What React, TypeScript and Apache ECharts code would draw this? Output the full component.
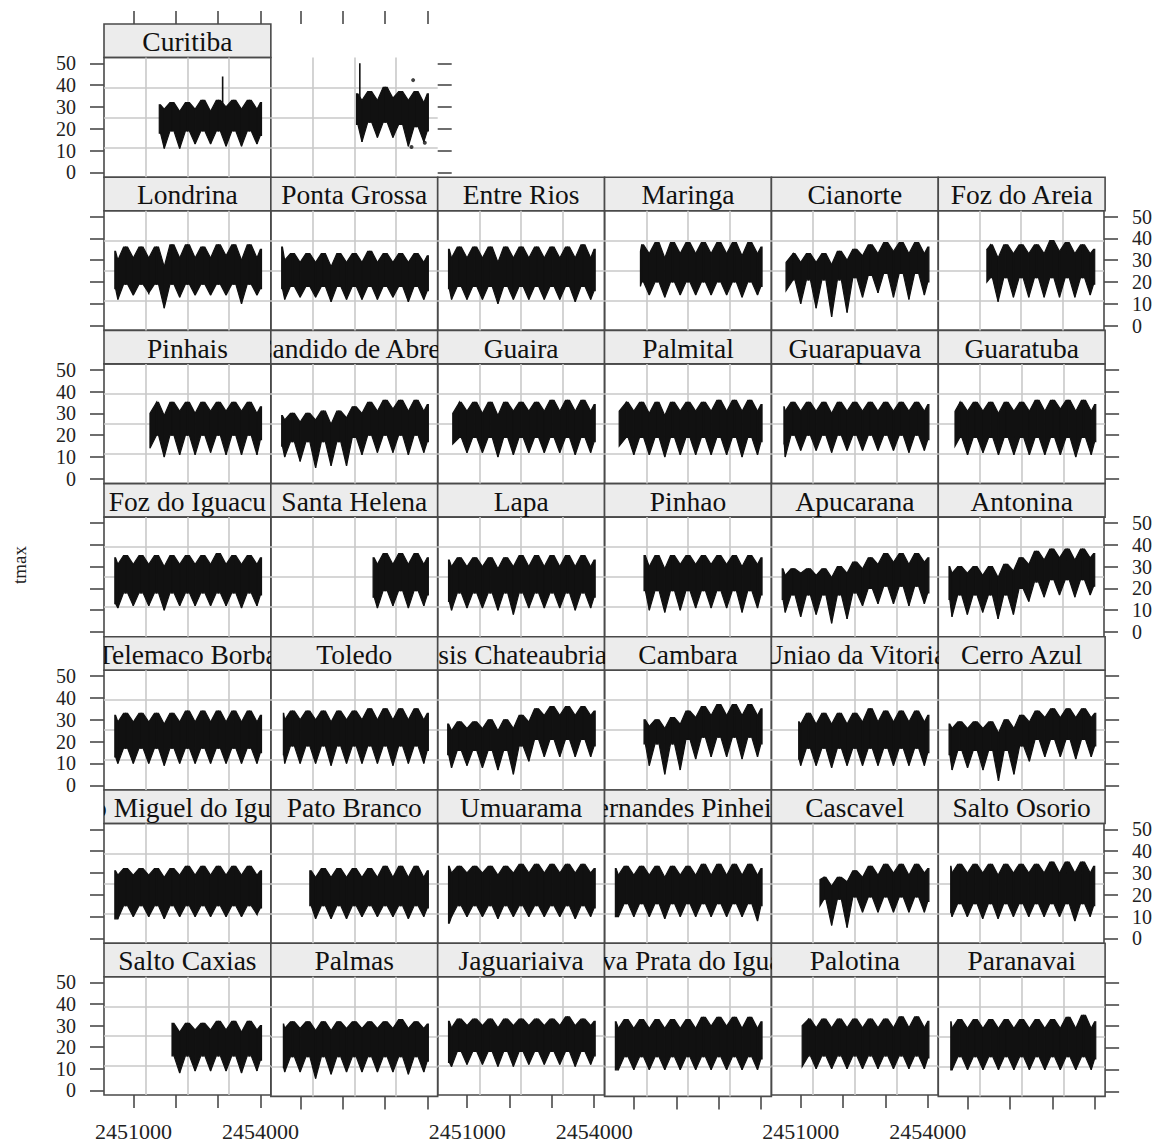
import React, { useEffect, useRef } from "react";
import * as echarts from "echarts";

// ---------- axes ----------
const X_MIN = 2450304;
const X_MAX = 2454246;
const Y_MIN = -2.16;
const Y_MAX = 52.66;
const X_TICKS = [2451000, 2452000, 2453000, 2454000];
const X_TICK_LABELS = [2451000, 2454000];
const Y_TICKS = [0, 10, 20, 30, 40, 50];

// half-year nodes (Julian day): Jul97, Jan98, ... Jul06, end of record
const NODE_DATES = [
  2450631, 2450815, 2450996, 2451180, 2451361, 2451545, 2451727, 2451911, 2452092, 2452276,
  2452457, 2452641, 2452822, 2453006, 2453188, 2453372, 2453553, 2453737, 2453918, 2454025,
];
// the July (winter) nodes among them
const WINTER_DATES = [
  2450631, 2450996, 2451361, 2451727, 2452092, 2452457, 2452822, 2453188, 2453553, 2453918,
];

// ---------- panel layout (top row first) ----------
const LAYOUT: string[][] = [
  ["Curitiba", "panel2"],
  ["Londrina", "Ponta Grossa", "Entre Rios", "Maringa", "Cianorte", "Foz do Areia"],
  ["Pinhais", "Candido de Abreu", "Guaira", "Palmital", "Guarapuava", "Guaratuba"],
  ["Foz do Iguacu", "Santa Helena", "Lapa", "Pinhao", "Apucarana", "Antonina"],
  ["Telemaco Borba", "Toledo", "Assis Chateaubriand", "Cambara", "Uniao da Vitoria", "Cerro Azul"],
  ["Sao Miguel do Iguacu", "Pato Branco", "Umuarama", "Fernandes Pinheiro", "Cascavel", "Salto Osorio"],
  ["Salto Caxias", "Palmas", "Jaguariaiva", "Nova Prata do Iguacu", "Palotina", "Paranavai"],
];

// ---------- tmax envelopes: [start, then each NODE_DATE after start] ----------
const curitibaHi = [31, 29, 32, 28, 32, 29, 33, 28, 33, 30, 33, 29, 33, 29, 32];
const curitibaLo = [18, 11, 19, 11, 19, 13, 19, 13, 19, 12, 19, 12, 19, 13, 17];
const panel2Hi = [36, 33, 37, 33, 39, 34, 37, 33, 37, 32, 36];
const panel2Lo = [22, 14, 23, 16, 23, 16, 22, 12, 21, 14, 19];

const londrinaHi = [34, 30, 36, 31, 36, 31, 36, 27, 37, 31, 37, 31, 36, 31, 37, 32, 37, 30, 37, 31, 35];
const londrinaLo = [17, 12, 19, 14, 19, 15, 19, 8, 19, 13, 19, 14, 19, 14, 19, 14, 19, 10, 19, 14, 17];
const pontaGrossaHi = [36, 30, 33, 29, 33, 29, 33, 27, 33, 29, 33, 29, 34, 29, 33, 29, 33, 29, 33, 29, 32];
const pontaGrossaLo = [17, 12, 18, 13, 18, 13, 18, 11, 18, 12, 18, 12, 18, 12, 18, 13, 18, 11, 18, 12, 16];
const entreRiosHi = [35, 31, 36, 31, 36, 31, 36, 29, 36, 31, 36, 31, 36, 31, 36, 31, 36, 31, 37, 31, 35];
const entreRiosLo = [17, 12, 18, 12, 18, 12, 18, 10, 18, 12, 18, 12, 18, 12, 18, 12, 18, 11, 18, 12, 16];
const maringaHi = [34, 37, 33, 38, 31, 38, 33, 38, 33, 38, 33, 38, 33, 38, 32, 38, 33, 36];
const maringaLo = [18, 20, 14, 20, 13, 20, 14, 20, 14, 20, 14, 20, 14, 20, 13, 20, 14, 18];
const cianorteHi = [29, 33, 29, 33, 29, 33, 28, 34, 30, 35, 32, 37, 33, 38, 34, 38, 33, 38, 33, 36];
const cianorteLo = [16, 21, 10, 21, 8, 21, 4, 21, 6, 22, 13, 23, 15, 24, 13, 24, 12, 24, 14, 20];
const fozAreiaHi = [35, 37, 31, 37, 33, 37, 33, 37, 33, 39, 34, 38, 33, 37, 33, 35];
const fozAreiaLo = [20, 22, 11, 22, 13, 22, 13, 22, 13, 22, 13, 22, 13, 22, 14, 19];

const pinhaisHi = [30, 35, 29, 35, 31, 35, 30, 35, 31, 35, 31, 35, 31, 35, 30, 33];
const pinhaisLo = [14, 20, 10, 20, 11, 20, 11, 20, 12, 20, 11, 20, 11, 20, 11, 18];
const candidoHi = [29, 27, 30, 26, 30, 27, 31, 25, 31, 28, 33, 30, 35, 31, 36, 32, 36, 31, 36, 31, 34];
const candidoLo = [15, 10, 17, 8, 17, 5, 17, 6, 17, 6, 19, 11, 20, 12, 20, 12, 20, 11, 20, 12, 17];
const guairaHi = [30, 35, 31, 35, 30, 35, 29, 35, 31, 35, 31, 35, 31, 36, 31, 36, 31, 36, 31, 34];
const guairaLo = [16, 19, 12, 19, 12, 19, 10, 19, 11, 19, 12, 19, 12, 19, 12, 19, 11, 19, 12, 17];
const palmitalHi = [31, 35, 31, 35, 30, 35, 29, 35, 31, 35, 31, 35, 31, 36, 31, 36, 31, 36, 31, 34];
const palmitalLo = [15, 19, 11, 19, 11, 19, 10, 19, 11, 19, 11, 19, 11, 19, 11, 19, 10, 19, 11, 17];
const guarapuavaHi = [33, 31, 35, 31, 35, 31, 35, 30, 35, 31, 35, 31, 35, 31, 35, 31, 35, 31, 35, 31, 34];
const guarapuavaLo = [16, 10, 20, 13, 20, 13, 20, 12, 20, 13, 20, 13, 20, 13, 20, 13, 20, 12, 20, 13, 18];
const guaratubaHi = [31, 35, 31, 35, 31, 35, 30, 35, 31, 35, 31, 36, 31, 36, 32, 36, 31, 36, 31, 34];
const guaratubaLo = [15, 19, 11, 19, 12, 19, 11, 19, 11, 19, 11, 19, 11, 19, 11, 19, 10, 19, 11, 17];

const fozIguacuHi = [34, 31, 35, 31, 35, 31, 35, 30, 35, 31, 35, 31, 35, 31, 36, 31, 35, 31, 35, 31, 34];
const fozIguacuLo = [13, 11, 18, 12, 18, 12, 18, 10, 18, 12, 18, 12, 18, 12, 18, 12, 18, 11, 18, 12, 17];
const santaHelenaHi = [34, 31, 36, 31, 36, 31, 36, 31, 34];
const santaHelenaLo = [16, 11, 19, 12, 19, 11, 19, 12, 17];
const lapaHi = [33, 30, 34, 30, 34, 30, 34, 29, 34, 30, 35, 30, 35, 30, 35, 30, 35, 30, 35, 30, 33];
const lapaLo = [14, 10, 18, 11, 18, 11, 18, 10, 18, 8, 18, 11, 18, 11, 18, 11, 18, 10, 18, 11, 16];
const pinhaoHi = [35, 30, 35, 29, 35, 31, 35, 31, 35, 31, 35, 31, 35, 30, 35, 31, 34];
const pinhaoLo = [19, 10, 19, 9, 19, 10, 19, 11, 19, 11, 19, 11, 19, 9, 19, 11, 17];
const apucaranaHi = [29, 26, 29, 27, 29, 26, 29, 25, 30, 27, 32, 29, 34, 31, 36, 32, 36, 31, 36, 32, 34];
const apucaranaLo = [15, 9, 17, 7, 17, 8, 17, 4, 17, 6, 18, 12, 20, 13, 21, 13, 21, 12, 21, 13, 18];
const antoninaHi = [30, 27, 30, 27, 30, 26, 30, 25, 31, 28, 34, 31, 37, 33, 38, 34, 38, 33, 38, 34, 36];
const antoninaLo = [15, 7, 17, 8, 17, 9, 17, 6, 17, 8, 20, 14, 23, 16, 24, 17, 24, 16, 24, 17, 21];

const telemacoHi = [32, 29, 33, 29, 33, 29, 33, 28, 33, 29, 34, 29, 34, 29, 34, 29, 34, 29, 34, 29, 32];
const telemacoLo = [13, 10, 17, 10, 17, 10, 17, 9, 17, 10, 17, 10, 17, 10, 17, 10, 17, 10, 17, 10, 15];
const toledoHi = [33, 30, 34, 30, 34, 30, 34, 29, 34, 30, 34, 30, 35, 30, 35, 30, 35, 30, 35, 30, 33];
const toledoLo = [14, 10, 18, 10, 18, 10, 18, 9, 18, 10, 18, 10, 18, 10, 18, 9, 18, 10, 18, 10, 16];
const assisHi = [28, 25, 29, 26, 29, 26, 30, 25, 30, 26, 32, 29, 35, 32, 36, 32, 36, 32, 36, 32, 34];
const assisLo = [14, 8, 16, 9, 16, 8, 16, 7, 16, 5, 18, 11, 21, 13, 21, 13, 21, 13, 21, 13, 18];
const cambaraHi = [30, 27, 30, 26, 31, 28, 34, 31, 36, 32, 37, 32, 37, 32, 37, 32, 35];
const cambaraLo = [19, 9, 19, 5, 19, 7, 21, 12, 22, 13, 22, 13, 22, 12, 22, 13, 19];
const uniaoHi = [29, 28, 33, 28, 33, 28, 33, 28, 33, 29, 35, 29, 34, 29, 34, 29, 34, 29, 32];
const uniaoLo = [12, 9, 17, 9, 17, 8, 17, 9, 17, 9, 17, 9, 17, 9, 17, 9, 17, 9, 15];
const cerroAzulHi = [28, 26, 29, 26, 29, 26, 29, 24, 30, 26, 32, 29, 34, 31, 35, 31, 35, 31, 35, 31, 33];
const cerroAzulLo = [14, 7, 16, 8, 16, 7, 16, 2, 16, 5, 18, 11, 21, 13, 21, 13, 21, 12, 21, 13, 18];

const saoMiguelHi = [31, 29, 32, 29, 32, 29, 32, 28, 32, 29, 33, 29, 33, 29, 33, 29, 33, 29, 33, 29, 31];
const saoMiguelLo = [9, 9, 15, 10, 15, 10, 15, 9, 15, 10, 15, 10, 15, 10, 15, 10, 15, 10, 15, 11, 14];
const patoBrancoHi = [31, 28, 32, 28, 32, 28, 32, 28, 32, 28, 33, 28, 33, 28, 33, 28, 31];
const patoBrancoLo = [15, 9, 15, 9, 15, 9, 15, 10, 15, 10, 15, 10, 15, 9, 15, 10, 14];
const umuaramaHi = [33, 30, 33, 30, 33, 30, 33, 29, 33, 30, 34, 30, 34, 30, 34, 30, 34, 30, 34, 30, 32];
const umuaramaLo = [7, 10, 15, 10, 15, 10, 15, 9, 15, 10, 15, 10, 15, 10, 15, 10, 15, 9, 15, 10, 14];
const fernandesHi = [32, 29, 33, 29, 33, 29, 33, 28, 33, 29, 33, 29, 34, 29, 34, 29, 34, 29, 34, 29, 32];
const fernandesLo = [10, 10, 16, 10, 16, 10, 16, 9, 16, 10, 16, 10, 16, 10, 16, 10, 16, 10, 16, 8, 15];
const cascavelHi = [27, 28, 24, 28, 26, 31, 28, 33, 29, 34, 30, 34, 29, 34, 30, 32];
const cascavelLo = [15, 18, 6, 18, 5, 19, 12, 19, 12, 19, 12, 19, 12, 19, 12, 17];
const saltoOsorioHi = [33, 30, 34, 30, 34, 30, 34, 29, 34, 30, 34, 30, 34, 30, 35, 30, 35, 30, 35, 30, 33];
const saltoOsorioLo = [12, 10, 16, 10, 16, 9, 16, 9, 16, 10, 16, 10, 16, 10, 16, 10, 16, 8, 16, 10, 15];

const saltoCaxiasHi = [31, 27, 31, 28, 31, 28, 32, 28, 32, 27, 32, 28, 30];
const saltoCaxiasLo = [16, 8, 16, 9, 16, 9, 16, 9, 16, 8, 16, 9, 14];
const palmasHi = [31, 29, 32, 29, 32, 28, 32, 28, 32, 29, 32, 29, 32, 29, 32, 29, 33, 29, 32, 29, 31];
const palmasLo = [11, 9, 16, 9, 16, 6, 16, 8, 16, 9, 16, 9, 16, 9, 16, 9, 16, 8, 16, 9, 14];
const jaguariaivaHi = [32, 29, 33, 30, 33, 30, 33, 29, 33, 30, 33, 30, 33, 30, 33, 30, 34, 30, 33, 30, 32];
const jaguariaivaLo = [13, 11, 18, 12, 18, 12, 18, 11, 18, 11, 18, 12, 18, 12, 18, 12, 18, 11, 18, 12, 16];
const novaPrataHi = [32, 29, 33, 29, 33, 29, 33, 29, 33, 29, 33, 29, 34, 30, 34, 30, 34, 29, 34, 29, 32];
const novaPrataLo = [10, 10, 16, 10, 16, 10, 16, 10, 16, 10, 16, 10, 16, 10, 16, 10, 16, 10, 16, 10, 15];
const palotinaHi = [30, 33, 29, 33, 29, 33, 29, 33, 29, 33, 29, 33, 29, 34, 29, 34, 29, 32];
const palotinaLo = [11, 16, 10, 16, 10, 16, 10, 16, 10, 16, 10, 16, 10, 16, 10, 16, 10, 15];
const paranavaiHi = [32, 29, 33, 29, 33, 29, 33, 29, 33, 29, 33, 29, 33, 29, 33, 29, 34, 29, 35, 29, 32];
const paranavaiLo = [10, 10, 16, 10, 16, 10, 16, 10, 16, 10, 16, 10, 16, 10, 16, 10, 16, 10, 16, 10, 15];

// isolated extremes [day, from, to] and single points [day, value]
const curitibaSpike = [2453107, 30, 44];
const panel2Spike = [2452406, 34, 50];
const panel2Dots = [
  [2453665, 42.3],
  [2453941, 13.6],
  [2453627, 11.7],
];

type Station = { label: string | null; t0: number; hi: number[]; lo: number[]; spike?: number[]; dots?: number[][] };

const STATIONS: Record<string, Station> = {
  Curitiba: { label: "Curitiba", t0: 2451610, hi: curitibaHi, lo: curitibaLo, spike: curitibaSpike },
  panel2: { label: null, t0: 2452328, hi: panel2Hi, lo: panel2Lo, spike: panel2Spike, dots: panel2Dots },
  Londrina: { label: "Londrina", t0: 2450560, hi: londrinaHi, lo: londrinaLo },
  "Ponta Grossa": { label: "Ponta Grossa", t0: 2450560, hi: pontaGrossaHi, lo: pontaGrossaLo },
  "Entre Rios": { label: "Entre Rios", t0: 2450560, hi: entreRiosHi, lo: entreRiosLo },
  Maringa: { label: "Maringa", t0: 2451152, hi: maringaHi, lo: maringaLo },
  Cianorte: { label: "Cianorte", t0: 2450650, hi: cianorteHi, lo: cianorteLo },
  "Foz do Areia": { label: "Foz do Areia", t0: 2451461, hi: fozAreiaHi, lo: fozAreiaLo },
  Pinhais: { label: "Pinhais", t0: 2451390, hi: pinhaisHi, lo: pinhaisLo },
  "Candido de Abreu": { label: "Candido de Abreu", t0: 2450560, hi: candidoHi, lo: candidoLo },
  Guaira: { label: "Guaira", t0: 2450660, hi: guairaHi, lo: guairaLo },
  Palmital: { label: "Palmital", t0: 2450650, hi: palmitalHi, lo: palmitalLo },
  Guarapuava: { label: "Guarapuava", t0: 2450600, hi: guarapuavaHi, lo: guarapuavaLo },
  Guaratuba: { label: "Guaratuba", t0: 2450700, hi: guaratubaHi, lo: guaratubaLo },
  "Foz do Iguacu": { label: "Foz do Iguacu", t0: 2450560, hi: fozIguacuHi, lo: fozIguacuLo },
  "Santa Helena": { label: "Santa Helena", t0: 2452720, hi: santaHelenaHi, lo: santaHelenaLo },
  Lapa: { label: "Lapa", t0: 2450560, hi: lapaHi, lo: lapaLo },
  Pinhao: { label: "Pinhao", t0: 2451237, hi: pinhaoHi, lo: pinhaoLo },
  Apucarana: { label: "Apucarana", t0: 2450560, hi: apucaranaHi, lo: apucaranaLo },
  Antonina: { label: "Antonina", t0: 2450560, hi: antoninaHi, lo: antoninaLo },
  "Telemaco Borba": { label: "Telemaco Borba", t0: 2450560, hi: telemacoHi, lo: telemacoLo },
  Toledo: { label: "Toledo", t0: 2450600, hi: toledoHi, lo: toledoLo },
  "Assis Chateaubriand": { label: "Assis Chateaubriand", t0: 2450540, hi: assisHi, lo: assisLo },
  Cambara: { label: "Cambara", t0: 2451237, hi: cambaraHi, lo: cambaraLo },
  "Uniao da Vitoria": { label: "Uniao da Vitoria", t0: 2450949, hi: uniaoHi, lo: uniaoLo },
  "Cerro Azul": { label: "Cerro Azul", t0: 2450560, hi: cerroAzulHi, lo: cerroAzulLo },
  "Sao Miguel do Iguacu": { label: "Sao Miguel do Iguacu", t0: 2450560, hi: saoMiguelHi, lo: saoMiguelLo },
  "Pato Branco": { label: "Pato Branco", t0: 2451225, hi: patoBrancoHi, lo: patoBrancoLo },
  Umuarama: { label: "Umuarama", t0: 2450560, hi: umuaramaHi, lo: umuaramaLo },
  "Fernandes Pinheiro": { label: "Fernandes Pinheiro", t0: 2450560, hi: fernandesHi, lo: fernandesLo },
  Cascavel: { label: "Cascavel", t0: 2451452, hi: cascavelHi, lo: cascavelLo },
  "Salto Osorio": { label: "Salto Osorio", t0: 2450600, hi: saltoOsorioHi, lo: saltoOsorioLo },
  "Salto Caxias": { label: "Salto Caxias", t0: 2451911, hi: saltoCaxiasHi, lo: saltoCaxiasLo },
  Palmas: { label: "Palmas", t0: 2450600, hi: palmasHi, lo: palmasLo },
  Jaguariaiva: { label: "Jaguariaiva", t0: 2450560, hi: jaguariaivaHi, lo: jaguariaivaLo },
  "Nova Prata do Iguacu": { label: "Nova Prata do Iguacu", t0: 2450560, hi: novaPrataHi, lo: novaPrataLo },
  Palotina: { label: "Palotina", t0: 2451031, hi: palotinaHi, lo: palotinaLo },
  Paranavai: { label: "Paranavai", t0: 2450600, hi: paranavaiHi, lo: paranavaiLo },
};

// ---------- styling / geometry ----------
const SERIF = '"Liberation Serif", "Times New Roman", serif';
const COL_X0 = 104;
const COL_W = 166.85;
const ROW_Y0 = 24;
const ROW_H = 153.2;
const STRIP_H = 33.5;
const BORDER = "#4a4a4a";
const GRIDLINE = "#c9c9c9";
const INK = "#111111";
const DIP_HALF_WIDTH_DAYS = 135; // visual width of the winter dips

function buildOption(): any {
  const grid: any[] = [];
  const xAxis: any[] = [];
  const yAxis: any[] = [];
  const series: any[] = [];
  const nRows = LAYOUT.length;
  const noLine = { show: false, onZero: false };

  LAYOUT.forEach((rowKeys, r) => {
    rowKeys.forEach((key, c) => {
      const st = STATIONS[key];
      const left = COL_X0 + c * COL_W;
      const top = ROW_Y0 + r * ROW_H;
      const isLast = c === rowKeys.length - 1;
      const hasStrip = st.label !== null;

      // strip
      if (hasStrip) {
        const gi = grid.length;
        grid.push({
          left, top, width: COL_W, height: STRIP_H, show: true,
          backgroundColor: "#ececec", borderColor: BORDER, borderWidth: 1.6,
        });
        const xi = xAxis.length;
        xAxis.push({ gridIndex: gi, type: "value", min: 0, max: 1, show: false, axisLine: noLine });
        const yi = yAxis.length;
        yAxis.push({ gridIndex: gi, type: "value", min: 0, max: 1, show: false, axisLine: noLine });
        const label = st.label as string;
        series.push({
          type: "custom", xAxisIndex: xi, yAxisIndex: yi, clip: true, silent: true,
          data: [[0.5, 0.5]],
          renderItem: (_p: any, api: any) => {
            const pt = api.coord([api.value(0), api.value(1)]);
            return {
              type: "text", x: pt[0], y: pt[1] + 1,
              style: {
                text: label, fill: INK, font: `27.5px ${SERIF}`,
                align: "center", verticalAlign: "middle",
                textAlign: "center", textVerticalAlign: "middle",
              },
            };
          },
        });
      }

      // panel
      const gi = grid.length;
      grid.push({
        left, top: top + STRIP_H, width: COL_W, height: ROW_H - STRIP_H,
        show: hasStrip, backgroundColor: "transparent", borderColor: BORDER, borderWidth: 1.6,
      });
      const isTop = r === 0;
      const isBottom = r === nRows - 1;
      const mainX = xAxis.length;
      xAxis.push({
        gridIndex: gi, type: "value", min: X_MIN, max: X_MAX,
        position: isTop ? "top" : "bottom", offset: isTop ? STRIP_H : 0,
        axisLine: noLine, splitLine: { show: false },
        axisTick: { show: isTop || isBottom, length: 13, lineStyle: { color: BORDER, width: 1.6 }, customValues: X_TICKS },
        axisLabel: {
          show: isBottom && c % 2 === 0, customValues: X_TICK_LABELS,
          formatter: (v: number) => String(v), margin: 25,
          color: "#222", fontSize: 22, fontFamily: SERIF,
        },
      });
      xAxis.push({
        gridIndex: gi, type: "value", min: 0, max: 4, interval: 1,
        position: isTop ? "bottom" : "top",
        axisLine: noLine, axisTick: { show: false }, axisLabel: { show: false },
        splitLine: { show: true, showMinLine: false, showMaxLine: false, lineStyle: { color: GRIDLINE, width: 1.6 } },
      });
      const leftSide = c === 0;
      const tickShow = leftSide || isLast;
      const labelShow = (leftSide && r % 2 === 0) || (!leftSide && isLast && r % 2 === 1);
      const mainY = yAxis.length;
      yAxis.push({
        gridIndex: gi, type: "value", min: Y_MIN, max: Y_MAX,
        position: leftSide ? "left" : "right",
        axisLine: noLine, splitLine: { show: false },
        axisTick: { show: tickShow, length: 14, lineStyle: { color: BORDER, width: 1.6 }, customValues: Y_TICKS },
        axisLabel: {
          show: labelShow, customValues: Y_TICKS, margin: 28,
          color: "#222", fontSize: 20, fontFamily: SERIF,
        },
      });
      yAxis.push({
        gridIndex: gi, type: "value", min: 0, max: 4, interval: 1,
        position: leftSide ? "right" : "left",
        axisLine: noLine, axisTick: { show: false }, axisLabel: { show: false },
        splitLine: { show: true, showMinLine: false, showMaxLine: false, lineStyle: { color: GRIDLINE, width: 1.6 } },
      });

      // data envelope: [day, low, high, isWinterNode]
      const times = [st.t0, ...NODE_DATES.filter((d) => d > st.t0)];
      const n = Math.min(times.length, st.hi.length, st.lo.length);
      const data: number[][] = [];
      for (let i = 0; i < n; i++) {
        data.push([times[i], st.lo[i], st.hi[i], WINTER_DATES.includes(times[i]) ? 1 : 0]);
      }
      series.push({
        type: "custom", xAxisIndex: mainX, yAxisIndex: mainY, silent: true,
        encode: { x: 0, y: [1, 2] },
        data,
        renderItem: (params: any, api: any) => {
          const i = params.dataIndexInside;
          if (i >= params.dataInsideLength - 1) return null;
          const ta = api.value(0, i), la = api.value(1, i), ha = api.value(2, i), wa = api.value(3, i);
          const tb = api.value(0, i + 1), lb = api.value(1, i + 1), hb = api.value(2, i + 1), wb = api.value(3, i + 1);
          const w = Math.min(DIP_HALF_WIDTH_DAYS, (tb - ta) * 0.75);
          let topPts: number[][];
          let botPts: number[][];
          if (wb && !wa) {
            topPts = [[ta, ha], [tb - w, ha], [tb, hb]];
            botPts = [[tb, lb], [tb - w, la], [ta, la]];
          } else if (wa && !wb) {
            topPts = [[ta, ha], [ta + w, hb], [tb, hb]];
            botPts = [[tb, lb], [ta + w, lb], [ta, la]];
          } else {
            topPts = [[ta, ha], [tb, hb]];
            botPts = [[tb, lb], [ta, la]];
          }
          const pts = [...topPts, ...botPts].map((p) => api.coord(p));
          return {
            type: "polygon",
            shape: { points: pts },
            style: { fill: INK, stroke: INK, lineWidth: 1.2 },
          };
        },
      });
      if (st.spike) {
        const [t, a, b] = st.spike;
        series.push({
          type: "line", xAxisIndex: mainX, yAxisIndex: mainY, silent: true,
          data: [[t, a], [t, b]], symbol: "none", showSymbol: false,
          lineStyle: { color: INK, width: 1.6 },
        });
      }
      if (st.dots) {
        series.push({
          type: "scatter", xAxisIndex: mainX, yAxisIndex: mainY, silent: true,
          data: st.dots, symbolSize: 4, itemStyle: { color: INK },
        });
      }
    });
  });

  return {
    animation: false,
    backgroundColor: "#ffffff",
    grid, xAxis, yAxis, series,
    graphic: [
      {
        type: "text", x: 19, y: 565, rotation: Math.PI / 2,
        style: {
          text: "tmax", fill: "#222", font: `19px ${SERIF}`,
          align: "center", verticalAlign: "middle",
          textAlign: "center", textVerticalAlign: "middle",
        },
      },
    ],
  };
}

export default function App() {
  const ref = useRef<HTMLDivElement>(null);
  useEffect(() => {
    if (!ref.current) return;
    const chart = echarts.init(ref.current, undefined, { renderer: "svg" });
    chart.setOption(buildOption());
    return () => chart.dispose();
  }, []);
  return (
    <div
      ref={ref}
      style={{ position: "absolute", left: 0, top: 0, width: 1155, height: 1142, background: "#fff" }}
    />
  );
}
